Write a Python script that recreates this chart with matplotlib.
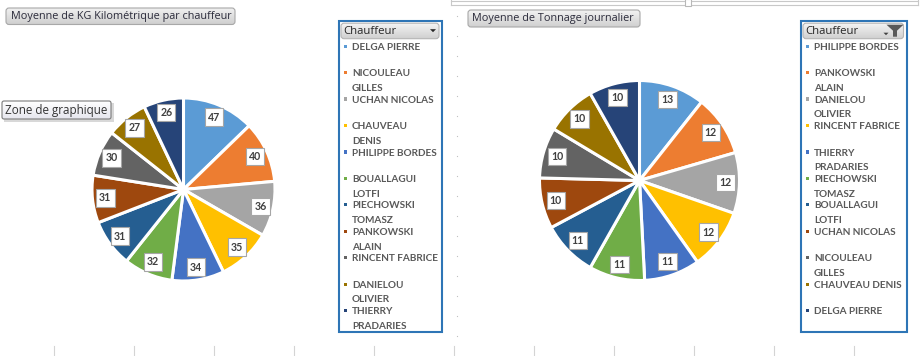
"""
Two Excel-style pivot pie charts: average KG km and average daily tonnage per driver.
"""
import numpy as np
import matplotlib
matplotlib.use("Agg")
import matplotlib.pyplot as plt
from matplotlib.patches import Rectangle, FancyBboxPatch, Polygon
from matplotlib.colors import LinearSegmentedColormap

# ---- data ----
kg_title = "Moyenne de KG Kilométrique par chauffeur"
kg_drivers = ["DELGA PIERRE", "NICOULEAU\nGILLES", "UCHAN NICOLAS", "CHAUVEAU\nDENIS",
              "PHILIPPE BORDES", "BOUALLAGUI\nLOTFI", "PIECHOWSKI\nTOMASZ",
              "PANKOWSKI\nALAIN", "RINCENT FABRICE", "DANIELOU\nOLIVIER",
              "THIERRY\nPRADARIES"]
kg_values = [47, 40, 36, 35, 34, 32, 31, 31, 30, 27, 26]

ton_title = "Moyenne de Tonnage journalier"
ton_drivers = ["PHILIPPE BORDES", "PANKOWSKI\nALAIN", "DANIELOU\nOLIVIER",
               "RINCENT FABRICE", "THIERRY\nPRADARIES", "PIECHOWSKI\nTOMASZ",
               "BOUALLAGUI\nLOTFI", "UCHAN NICOLAS", "NICOULEAU\nGILLES",
               "CHAUVEAU DENIS", "DELGA PIERRE"]
ton_values = [13, 12, 12, 12, 11, 11, 11, 10, 10, 10, 10]

legend_title = "Chauffeur"
hover_text = "Zone de graphique"

# excel 2013 palette
colors = ["#5B9BD5", "#ED7D31", "#A5A5A5", "#FFC000", "#4472C4", "#70AD47",
          "#255E91", "#9E480E", "#636363", "#997300", "#264478"]

W, H = 922, 356
NARROW = ["Lato", "Liberation Sans", "DejaVu Sans"]
UI = ["Open Sans", "DejaVu Sans"]

fig = plt.figure(figsize=(W / 100, H / 100), dpi=100)
fig.patch.set_facecolor("white")

# overlay axes in pixel coordinates (y downwards) for the excel decorations
deco = fig.add_axes([0, 0, 1, 1])
deco.axis("off")
deco.set_autoscale_on(False)
deco.set_xlim(0, W)
deco.set_ylim(H, 0)


def button(x0, y0, x1, y1, top, bottom, edge, r=3, lw=0.8):
    """rounded box with a vertical gradient"""
    patch = FancyBboxPatch((x0, y0), x1 - x0, y1 - y0,
                           boxstyle=f"round,pad=0,rounding_size={r}",
                           fc="none", ec=edge, lw=lw, zorder=3)
    deco.add_patch(patch)
    cmap = LinearSegmentedColormap.from_list("g", [top, bottom])
    grad = np.linspace(0, 1, 32).reshape(-1, 1)
    im = deco.imshow(grad, cmap=cmap, extent=(x0, x1, y1, y0), aspect="auto",
                     interpolation="bilinear", zorder=2)
    im.set_clip_path(patch)


def pie(values, cx, cy, r):
    half = 120
    ax = fig.add_axes([(cx - half) / W, (H - cy - half) / H, 2 * half / W, 2 * half / H])
    total = sum(values)
    ax.pie(values, colors=colors, startangle=90, counterclock=False, radius=r / 100,
           autopct=lambda p: f"{p * total / 100:.0f}", pctdistance=0.86,
           wedgeprops=dict(edgecolor="white", linewidth=2.2),
           textprops=dict(fontsize=7.6, fontweight="bold", color="#404040", family=NARROW,
                          bbox=dict(boxstyle="square,pad=0.3", fc="white",
                                    ec="#A6A6A6", lw=0.8)))
    ax.set_xlim(-1.2, 1.2)
    ax.set_ylim(-1.2, 1.2)
    ax.axis("off")
    return ax


def legend(names, x0, x1, y0, y1, funnel=False):
    deco.add_patch(Rectangle((x0, y0), x1 - x0, y1 - y0, fill=False,
                             ec="#2E75B6", lw=1.5, zorder=4))
    button(x0 + 2.5, y0 + 2.5, x1 - 3, y0 + 18, "#F4F4F4", "#CFCFCF", "#B5B5B5")
    deco.text(x0 + 4.5, y0 + 11, legend_title, fontsize=8.2, color="#262626",
              family=UI, va="center", zorder=5)
    if funnel:
        fx = x1 - 20
        deco.add_patch(Polygon([(fx, y0 + 4), (fx + 17, y0 + 4), (fx + 10.5, y0 + 10),
                                (fx + 10.5, y0 + 16), (fx + 6.5, y0 + 16), (fx + 6.5, y0 + 10)],
                               closed=True, fc="#595959", ec="none", zorder=5))
        deco.add_patch(Polygon([(fx - 3, y0 + 12), (fx + 2, y0 + 12), (fx - 0.5, y0 + 14.5)],
                               closed=True, fc="#404040", ec="none", zorder=5))
    else:
        ax_ = x1 - 12
        deco.add_patch(Polygon([(ax_, y0 + 8.5), (ax_ + 6, y0 + 8.5), (ax_ + 3, y0 + 11.5)],
                               closed=True, fc="#262626", ec="none", zorder=5))
    for i, name in enumerate(names):
        yc = 45.5 + i * 26.45
        deco.add_patch(Rectangle((x0 + 5, yc - 1), 3.2, 3.2, fc=colors[i], ec="none", zorder=5))
        for j, line in enumerate(name.split("\n")):
            deco.text(x0 + 13.5, yc + 4.2 + j * 14.7, line, fontsize=7.2, fontweight="bold",
                      color="#595959", family=NARROW, va="baseline", zorder=5)


# titles (pivot field buttons)
button(6, 8, 235, 24.5, "#F2F2F2", "#D0D0D0", "#A8A8A8")
deco.text(10.5, 16.3, kg_title, fontsize=7.8, color="#2B2B3B", family=UI, va="center", zorder=5)
button(468, 10, 640, 27, "#F2F2F2", "#D0D0D0", "#A8A8A8")
deco.text(472, 18.5, ton_title, fontsize=7.8, color="#2B2B3B", family=UI, va="center", zorder=5)

pie(kg_values, 183.5, 189.5, 91.5)
pie(ton_values, 639.5, 180.5, 100)

legend(kg_drivers, 338.5, 442, 20.7, 332)
legend(ton_drivers, 800.5, 906.5, 20.7, 332, funnel=True)

# "Zone de graphique" tooltip with a small shadow
deco.add_patch(Rectangle((4, 103), 110, 18.5, fc="#D8D8D8", ec="none", zorder=2))
button(2, 101, 111, 119, "#FFFFFF", "#E6E6EE", "#7A7A7A", r=2)
deco.text(5, 110.3, hover_text, fontsize=8.4, color="#333333", family=UI, va="center", zorder=5)

# worksheet tick marks at the bottom
for k in range(11):
    deco.plot([54 + 80 * k] * 2, [346, 356], color="#D4D4D4", lw=0.8)

# dotted separator between the two charts
deco.scatter([457] * 17, [16 + 20 * k for k in range(17)], s=0.8, color="#C0C0C0",
             linewidths=0)

# selection frame on top of the right chart
deco.plot([451, 918], [0.8, 0.8], color="#C8C8C8", lw=0.8)
deco.plot([451, 918], [4.6, 4.6], color="#C8C8C8", lw=0.8)
deco.plot([451, 451], [0, 4.6], color="#C8C8C8", lw=0.8)
deco.plot([918, 918], [0, 4.6], color="#C8C8C8", lw=0.8)
deco.add_patch(Rectangle((685, -1), 6, 6.5, fc="white", ec="#B8B8B8", lw=0.8, zorder=3))

fig.savefig("out.png", dpi=100, facecolor="white")
